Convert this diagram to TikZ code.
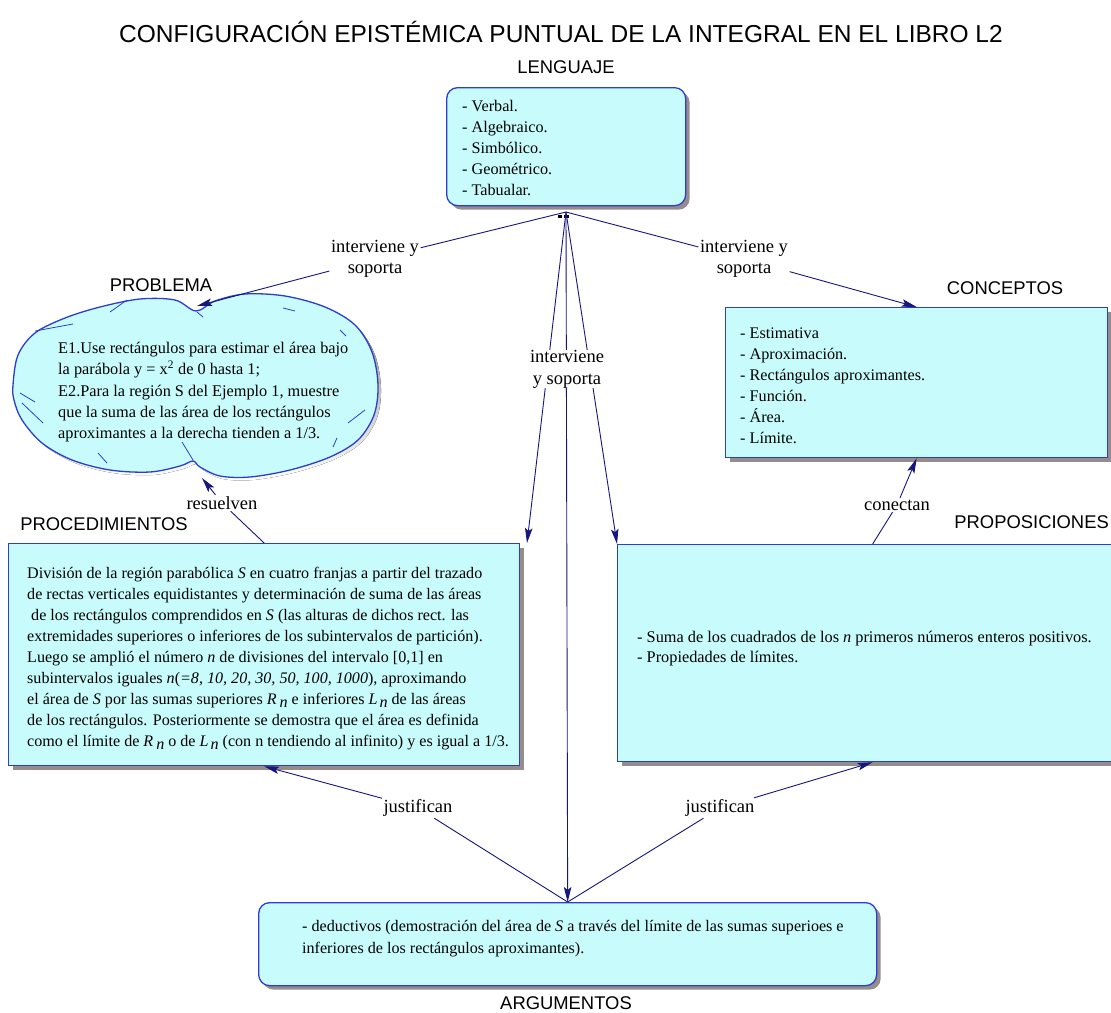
\documentclass[tikz,border=0pt]{standalone}
\usepackage{fontspec}
\setmainfont{Liberation Serif}
\setsansfont{Liberation Sans}
\usetikzlibrary{arrows.meta,shadows}

\definecolor{boxfill}{RGB}{200,252,252}
\definecolor{boxline}{RGB}{44,62,205}
\definecolor{linkcol}{RGB}{22,22,125}
\definecolor{shade}{RGB}{150,140,140}

\tikzset{
  box/.style={draw=boxline, line width=1.3pt, fill=boxfill, inner sep=0pt,
    drop shadow={shadow xshift=4pt, shadow yshift=-4pt, fill=shade, opacity=1}},
  rbox/.style={box, rounded corners=11pt},
  body/.style={font=\fontsize{16.2}{21}\selectfont, align=left, inner sep=0pt, anchor=north west},
  head/.style={font=\sffamily\fontsize{18.4}{20}\selectfont, inner sep=0pt},
  rel/.style={font=\fontsize{18.5}{21.5}\selectfont, align=center, inner sep=1.5pt},
  link/.style={draw=linkcol, line width=0.9pt},
  arr/.style={link, -{Stealth[length=15pt, width=7.5pt, inset=3pt]}},
  deco/.style={draw=boxline, line width=0.8pt}
}

\begin{document}
\begin{tikzpicture}[x=1pt,y=-1pt]
\clip (0,0) rectangle (1111,1012);
\fill[white] (0,0) rectangle (1111,1012);

% title and section headings
\node[font=\sffamily\fontsize{24.5}{28}\selectfont, inner sep=0pt] (title) at (561,32)
  {CONFIGURACIÓN EPISTÉMICA PUNTUAL DE LA INTEGRAL EN EL LIBRO L2};
\node[head] (hLen) at (566,67) {LENGUAJE};
\node[head] (hProb) at (161,285) {PROBLEMA};
\node[head] (hConc) at (1005,288) {CONCEPTOS};
\node[head] (hProc) at (104,524) {PROCEDIMIENTOS};
\node[head, anchor=east] (hProp) at (1109,522) {PROPOSICIONES};
\node[head] (hArg) at (566,1003) {ARGUMENTOS};

% language box
\node[rbox, minimum width=239pt, minimum height=118pt, anchor=north west] (lang) at (446,87) {};
\node[body] (langT) at (462,100.5) {- Verbal.\\- Algebraico.\\- Simbólico.\\- Geométrico.\\- Tabualar.};

% concepts box
\node[box, minimum width=382pt, minimum height=150pt, anchor=north west] (conc) at (725,307) {};
\node[body] (concT) at (740,328) {- Estimativa\\- Aproximación.\\- Rectángulos aproximantes.\\- Función.\\- Área.\\- Límite.};

% procedures box
\node[box, minimum width=511pt, minimum height=222pt, anchor=north west] (proc) at (8,543) {};
\node[body, font=\fontsize{16.1}{21}\selectfont] (procT) at (27,567) {%
División de la región parabólica \textit{S} en cuatro franjas a partir del trazado\\
de rectas verticales equidistantes y determinación de suma de las áreas\\
\ de los rectángulos comprendidos en \textit{S} (las alturas de dichos rect. las\\
extremidades superiores o inferiores de los subintervalos de partición).\\
Luego se amplió el número \textit{n} de divisiones del intervalo [0,1] en\\
subintervalos iguales \textit{n}(\textit{=8, 10, 20, 30, 50, 100, 1000}), aproximando\\
el área de \textit{S} por las sumas superiores \textit{R}\kern3pt\raisebox{-0.35ex}{\textit{n}} e inferiores \textit{L}\kern2pt\raisebox{-0.35ex}{\textit{n}} de las áreas\\
de los rectángulos. Posteriormente se demostra que el área es definida\\
como el límite de \textit{R}\kern3pt\raisebox{-0.35ex}{\textit{n}} o de \textit{L}\kern2pt\raisebox{-0.35ex}{\textit{n}} (con n tendiendo al infinito) y es igual a 1/3.};

% propositions box (runs past the right edge)
\node[box, minimum width=510pt, minimum height=217pt, anchor=north west] (prop) at (617,544) {};
\node[body, font=\fontsize{16.3}{20}\selectfont] (propT) at (637,631) {%
- Suma de los cuadrados de los \textit{n} primeros números enteros positivos.\\
- Propiedades de límites.};

% arguments box
\node[rbox, minimum width=618pt, minimum height=83pt, anchor=north west] (arg) at (258,902) {};
\node[body, font=\fontsize{16.1}{22}\selectfont] (argT) at (302,920) {%
- deductivos (demostración del área de \textit{S} a través del límite de las sumas superioes e\\
inferiores de los rectángulos aproximantes).};

% problem cloud: shadow, body, pen strokes
\fill[shade, shift={(3,3)}] plot[smooth cycle, tension=0.55] coordinates {
 (13,385) (18,355) (35,333) (65,318) (100,307) (140,299) (175,300) (196,311)
 (215,301) (245,294) (285,296) (325,307) (355,325) (372,352) (378,385) (374,415)
 (358,440) (330,457) (290,470) (250,477) (220,476) (200,467) (193,461) (180,466)
 (150,472) (110,470) (72,460) (42,443) (22,420) (14,400)};
\draw[boxline, line width=1.3pt, fill=boxfill] plot[smooth cycle, tension=0.55] coordinates {
 (13,385) (18,355) (35,333) (65,318) (100,307) (140,299) (175,300) (196,311)
 (215,301) (245,294) (285,296) (325,307) (355,325) (372,352) (378,385) (374,415)
 (358,440) (330,457) (290,470) (250,477) (220,476) (200,467) (193,461) (180,466)
 (150,472) (110,470) (72,460) (42,443) (22,420) (14,400)};
\draw[deco] (110,312) -- (127,300);
\draw[deco] (35,331) -- (73,324);
\draw[deco] (20,393) -- (35,402);
\draw[deco] (22,403) -- (43,423);
\draw[deco] (98,453) -- (107,463);
\draw[deco] (182,442) -- (193,460);
\draw[deco] (333,447) -- (337,438);
\draw[deco] (348,423) -- (365,410);
\draw[deco] (197,312) -- (203,317);
\draw[deco] (283,308) -- (295,311);
\draw[deco] (340,330) -- (346,336);
\coordinate (cloudTop) at (197,306);
\coordinate (cloudBot) at (202,478);
\node[body, font=\fontsize{16.3}{21.25}\selectfont] (probT) at (58,342) {%
E1.Use rectángulos para estimar el área bajo\\
la parábola y = x\textsuperscript{2} de 0 hasta 1;\\
E2.Para la región S del Ejemplo 1, muestre\\
que la suma de las área de los rectángulos\\
aproximantes a la derecha tienden a 1/3.};

% hub below the language box
\coordinate (hub) at (566,212);
\fill[black] (558,215) rectangle (562,218);
\fill[black] (564,215) rectangle (569,218);

% relation labels
\node[rel] (lblL) at (375,259) {interviene y\\soporta};
\node[rel] (lblR) at (744,259) {interviene y\\soporta};
\node[rel] (lblRes) at (222,503) {resuelven};
\node[rel] (lblC) at (897,505) {conectan};
\node[rel] (lblJL) at (418,808) {justifican};
\node[rel] (lblJR) at (720,808) {justifican};

% connectors
\draw[link] (hub) -- (lblL);
\draw[arr] (lblL) -- (cloudTop);
\draw[link] (hub) -- (lblR);
\draw[arr] (lblR) -- (conc.north);
\coordinate (procTip) at (527,543);
\draw[arr] (hub) -- (procTip);
\draw[arr] (hub) -- (arg.north);
\draw[arr] (hub) -- (prop.north west);
\node[rel, fill=white, inner sep=0pt, font=\fontsize{18.5}{22}\selectfont] (lblM) at (567,369) {interviene\\y soporta};
\draw[link] (proc.north) -- (lblRes);
\draw[arr] (lblRes) -- (cloudBot);
\draw[link] (prop.north) -- (lblC);
\draw[arr] (lblC) -- (conc.south);
\draw[link] (arg.north) -- (lblJL);
\draw[arr] (lblJL) -- (proc.south);
\draw[link] (arg.north) -- (lblJR);
\draw[arr] (lblJR) -- (prop.south);
\end{tikzpicture}
\end{document}
